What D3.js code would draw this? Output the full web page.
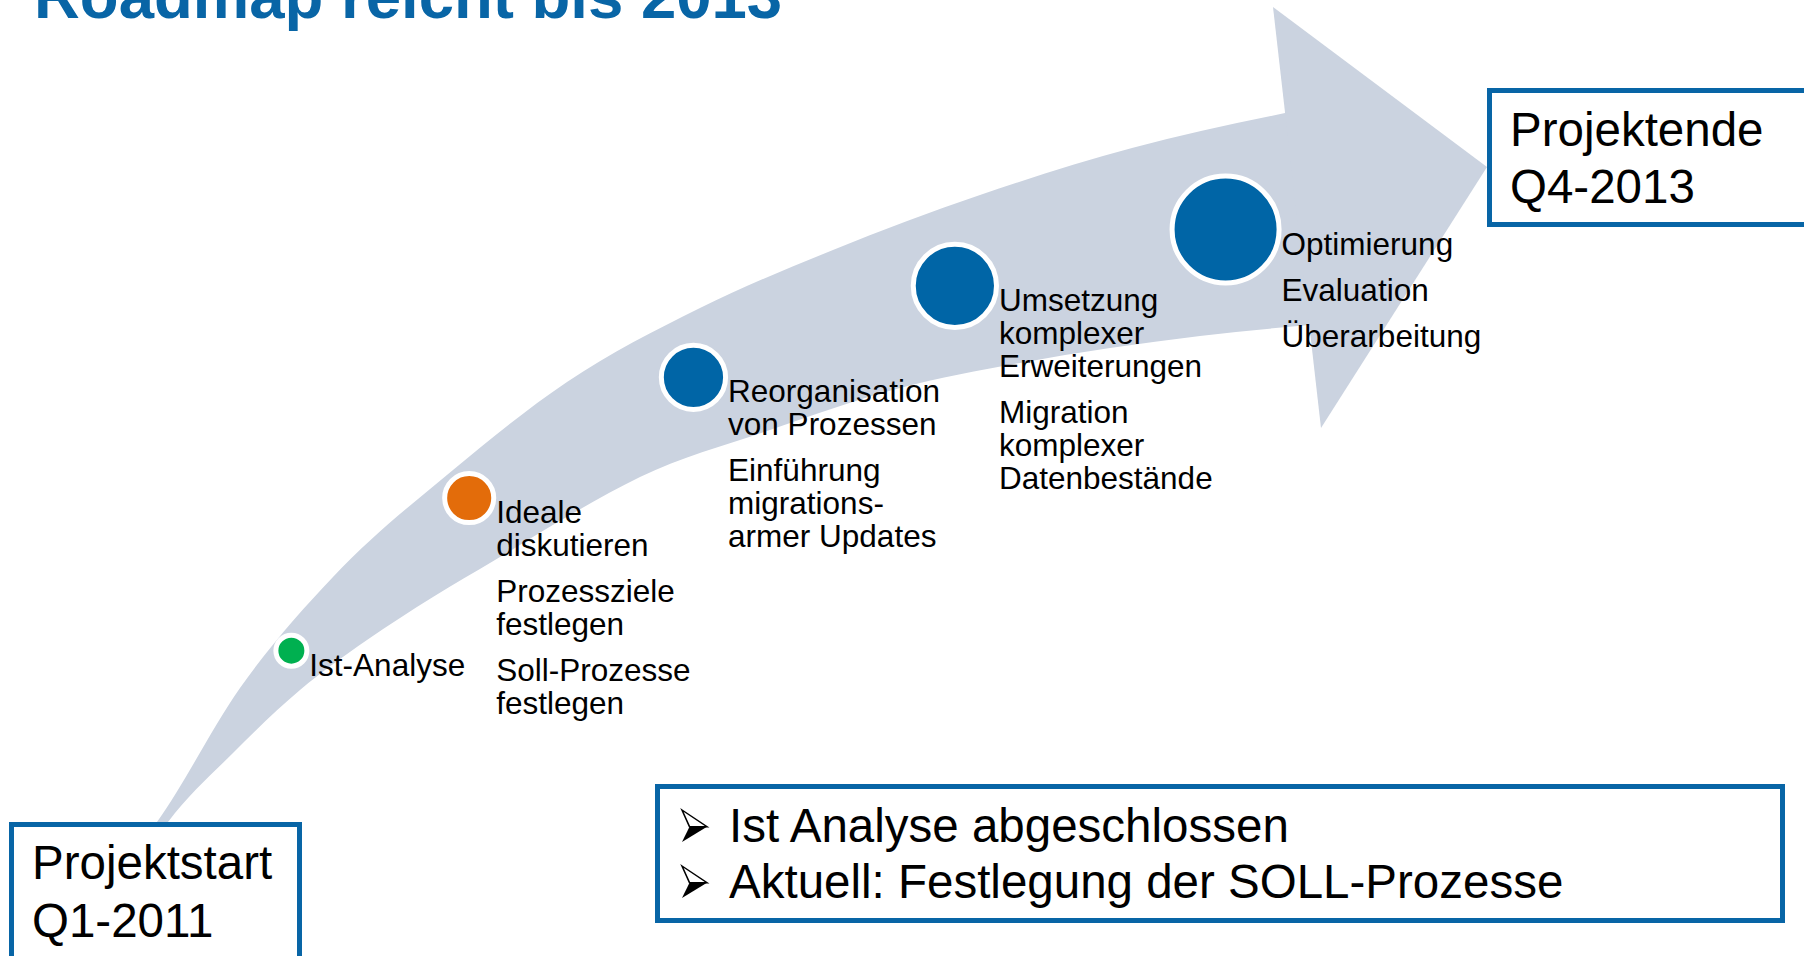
<!DOCTYPE html>
<html>
<head>
<meta charset="utf-8">
<script src="https://cdn.jsdelivr.net/npm/d3@7"></script>
<style>
  body { margin: 0; background: #fff; }
  svg { display: block; font-family: 'Liberation Sans', Arial, sans-serif; }
</style>
</head>
<body>
<script>
// --- data ---
const title = 'Roadmap reicht bis 2013';
const startLabel = ['Projektstart', 'Q1-2011'];
const endLabel = ['Projektende', 'Q4-2013'];
const phaseProgress = [0.099, 0.233, 0.402, 0.599, 0.803];   // where the phase sits along the roadmap
const phaseWeight = [1, 1.95, 2.75, 3.75, 5];                // relative marker size
const phaseColor = ['#00b050', '#e36c0a', '#0065a6', '#0065a6', '#0065a6'];
const phaseText = [
  [['Ist-Analyse']],
  [['Ideale', 'diskutieren'], ['Prozessziele', 'festlegen'], ['Soll-Prozesse', 'festlegen']],
  [['Reorganisation', 'von Prozessen'], ['Einführung', 'migrations-', 'armer Updates']],
  [['Umsetzung', 'komplexer', 'Erweiterungen'], ['Migration', 'komplexer', 'Datenbestände']],
  [['Optimierung'], ['Evaluation'], ['Überarbeitung']]
];
const statusLines = ['Ist Analyse abgeschlossen', 'Aktuell: Festlegung der SOLL-Prozesse'];

// --- layout ---
const W = 1804, H = 956;
const blue = '#0865a6';
const bandColor = '#cbd3e0';

// outline of the curved arrow body (outer and inner edge) and its head
let bandTop = [[136,850],[157,822],[240,688],[333,577],[453,470],[567,382],[700,308],[833,250],
  [980,195],[1132,148],[1300,110]];
let bandBottom = [[148,850],[168,822],[233,753],[300,690],[367,640],[433,597],[495,560],[570,515],
  [640,477],[767,431],[900,388],[1020,363],[1200,336],[1320,324]];
let head = [[1273,7],[1487,167],[1321,428]];

let svg = d3.select('body').append('svg')
    .attr('width', W)
    .attr('height', H);

// arrow body
let line = d3.line().curve(d3.curveMonotoneX);
let bodyPath = line(bandTop) + line(bandBottom.slice().reverse()).replace(/^M/, 'L') + 'Z';
svg.append('path').attr('d', bodyPath).attr('fill', bandColor);
svg.append('path').attr('d', d3.line()(head) + 'Z').attr('fill', bandColor);

// scales
let x = d3.scaleLinear().domain([0, 1]).range([160, 1487]);
let topY = d3.scaleLinear().domain(bandTop.map(d => d[0])).range(bandTop.map(d => d[1]));
let botY = d3.scaleLinear().domain(bandBottom.map(d => d[0])).range(bandBottom.map(d => d[1]));
// how far down inside the band the markers sit
let lane = d3.scaleLinear().domain([0, 0.25, 0.4, 1]).range([0.33, 0.345, 0.45, 0.52]);
let r = d3.scaleLinear().domain([1, 5]).range([13, 51]);

let phases = phaseProgress.map((p, i) => {
    let cx = x(p);
    let t = topY(cx), b = botY(cx);
    return {cx, cy: t + lane(p) * (b - t), r: r(phaseWeight[i]), color: phaseColor[i], text: phaseText[i]};
});

let g = svg.append('g').attr('class', 'phases');
g.selectAll('circle').data(phases).enter().append('circle')
    .attr('cx', d => d.cx)
    .attr('cy', d => d.cy)
    .attr('r', d => d.r + 2.5)
    .attr('fill', d => d.color)
    .attr('stroke', '#fff')
    .attr('stroke-width', 5);

// labels next to each marker
let fs = 31.5, lineH = 33, paraGap = 13;
phases.forEach(d => {
    let tx = d.cx + d.r + 5;
    let y = d.cy + 25;
    let t = g.append('text').attr('font-size', fs).attr('fill', '#000');
    d.text.forEach((para, pi) => {
        if (pi > 0) y += paraGap;
        para.forEach(l => {
            t.append('tspan').attr('x', tx).attr('y', y).text(l);
            y += lineH;
        });
    });
});

// title (runs off the top edge, as in the slide)
svg.append('text')
    .attr('x', 34).attr('y', 18)
    .attr('font-size', 63.5).attr('font-weight', 'bold')
    .attr('fill', blue)
    .text(title);

// boxes
function box(x0, y0, x1, y1) {
    svg.append('rect')
        .attr('x', x0 + 2.5).attr('y', y0 + 2.5)
        .attr('width', x1 - x0 - 5).attr('height', y1 - y0 - 5)
        .attr('fill', '#fff')
        .attr('stroke', blue)
        .attr('stroke-width', 5);
}
function boxText(lines, tx, y0, step, size) {
    let t = svg.append('text').attr('font-size', size).attr('fill', '#000');
    lines.forEach((l, i) => t.append('tspan').attr('x', tx).attr('y', y0 + i * step).text(l));
    return t;
}

box(9, 822, 302, 1000);
boxText(startLabel, 32, 879, 58, 47.5);

box(1487, 88, 1830, 227);
boxText(endLabel, 1510, 146, 57, 47.5);

box(655, 784, 1785, 923);
boxText(statusLines, 729, 842, 56, 47.5);

// 3d arrowhead bullets
statusLines.forEach((l, i) => {
    let bx = 682, by = 842 + i * 56 - 32, bw = 25, bh = 32;
    let A = [bx, by], T = [bx + bw, by + bh * 0.52], B = [bx, by + bh], N = [bx + bw * 0.3, by + bh * 0.52];
    svg.append('path').attr('d', d3.line()([N, T, B]) + 'Z').attr('fill', '#000');
    svg.append('path').attr('d', d3.line()([A, T, N]) + 'Z')
        .attr('fill', '#fff').attr('stroke', '#000').attr('stroke-width', 1.5)
        .attr('stroke-linejoin', 'miter');
});
</script>
</body>
</html>
